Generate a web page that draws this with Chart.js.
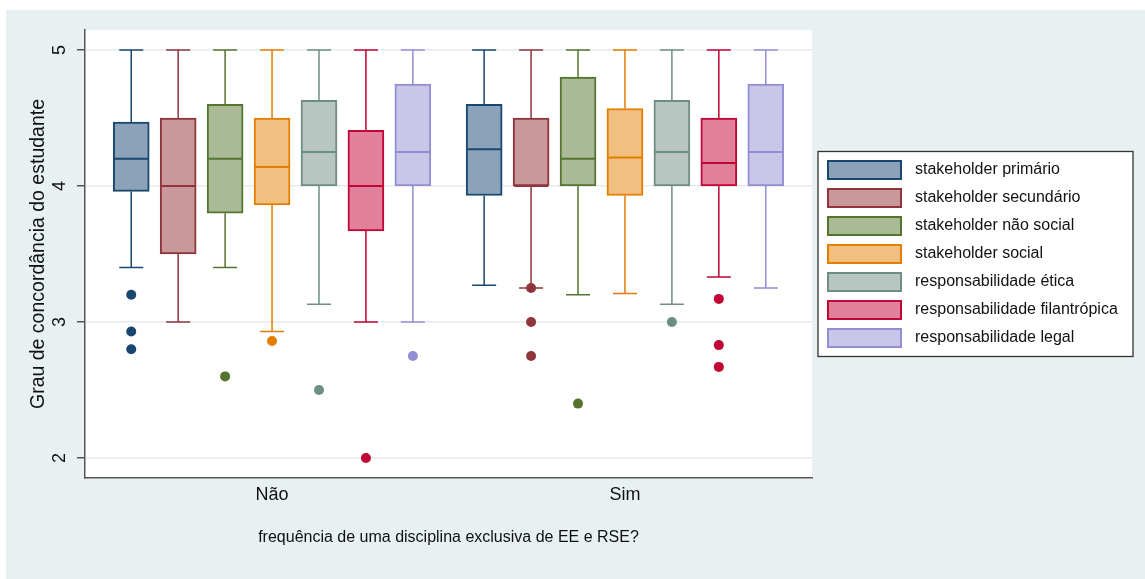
<!DOCTYPE html>
<html>
<head>
<meta charset="utf-8">
<script src="https://cdn.jsdelivr.net/npm/chart.js@4.4.0/dist/chart.umd.min.js"></script>
<style>
  html, body { margin: 0; padding: 0; background: #fff; }
  #wrap { width: 1145px; height: 579px; }
</style>
</head>
<body>
<div id="wrap"><canvas id="chart" width="1145" height="579"></canvas></div>
<script>
// categories (x axis) and series (one box per series in each category)
var groups = ['Não', 'Sim'];
var seriesNames = [
  'stakeholder primário',
  'stakeholder secundário',
  'stakeholder não social',
  'stakeholder social',
  'responsabilidade ética',
  'responsabilidade filantrópica',
  'responsabilidade legal'
];

// box statistics, one [Não, Sim] pair per series
var upperWhisker  = [[5, 5], [5, 5], [5, 5], [5, 5], [5, 5], [5, 5], [5, 5]];
var upperQuartile = [[4.47, 4.6], [4.5, 4.5], [4.6, 4.8], [4.5, 4.57], [4.63, 4.63], [4.41, 4.5], [4.75, 4.75]];
var medians       = [[4.2, 4.27], [4, 4], [4.2, 4.2], [4.14, 4.21], [4.25, 4.25], [4, 4.17], [4.25, 4.25]];
var lowerQuartile = [[3.96, 3.93], [3.5, 4], [3.8, 4], [3.86, 3.93], [4, 4], [3.67, 4], [4, 4]];
var lowerWhisker  = [[3.4, 3.27], [3, 3.25], [3.4, 3.2], [2.93, 3.21], [3.13, 3.13], [3, 3.33], [3, 3.25]];
var outliers = [
  [[3.2, 2.93, 2.8], []],
  [[], [3.25, 3, 2.75]],
  [[2.6], [2.4]],
  [[2.86], []],
  [[2.5], [3]],
  [[2], [3.17, 2.83, 2.67]],
  [[2.75], []]
];
var yTicks = [2, 3, 4, 5];

var lineColors = ['#1a476f', '#90353b', '#55752f', '#e37e00', '#6e8e84', '#c10534', '#938dd2'];
var fillColors = ['#8ca2b8', '#c8989b', '#aab996', '#f1bf80', '#b7c6c1', '#e0809a', '#c9c6e8'];

var FONT = '"Liberation Sans", Arial, Helvetica, sans-serif';
var SERIES_STEP = 0.133;

function xPos(g, s) {
  return g + (s - (seriesNames.length - 1) / 2) * SERIES_STEP;
}

var datasets = [];
seriesNames.forEach(function (name, s) {
  datasets.push({
    type: 'bar',
    label: name,
    data: groups.map(function (g, gi) {
      return { x: xPos(gi, s), y: [lowerQuartile[s][gi], upperQuartile[s][gi]] };
    }),
    backgroundColor: fillColors[s],
    borderColor: lineColors[s],
    borderWidth: 2,
    borderSkipped: false,
    barThickness: 36,
    grouped: false,
    order: 2
  });
});
seriesNames.forEach(function (name, s) {
  var pts = [];
  groups.forEach(function (g, gi) {
    outliers[s][gi].forEach(function (v) { pts.push({ x: xPos(gi, s), y: v }); });
  });
  datasets.push({
    type: 'scatter',
    label: name + ' (outliers)',
    data: pts,
    pointRadius: 5,
    pointHoverRadius: 5,
    pointBackgroundColor: lineColors[s],
    pointBorderWidth: 0,
    order: 1
  });
});

// whiskers under the boxes, medians on top, plus frame and legend
var boxPlugin = {
  id: 'boxParts',
  beforeDraw: function (chart) {
    var ctx = chart.ctx, a = chart.chartArea;
    ctx.save();
    ctx.fillStyle = '#ffffff';
    ctx.fillRect(0, 0, chart.width, chart.height);
    ctx.fillStyle = '#e8f0f2';
    ctx.fillRect(6, 10, chart.width - 6, chart.height - 10);
    ctx.fillStyle = '#ffffff';
    ctx.fillRect(a.left, a.top, a.right - a.left, a.bottom - a.top);
    ctx.restore();
  },
  beforeDatasetsDraw: function (chart) {
    var ctx = chart.ctx, xs = chart.scales.x, ys = chart.scales.y;
    ctx.save();
    ctx.lineWidth = 1.5;
    seriesNames.forEach(function (n, s) {
      ctx.strokeStyle = lineColors[s];
      groups.forEach(function (g, gi) {
        var x = xs.getPixelForValue(xPos(gi, s));
        var segs = [[upperQuartile[s][gi], upperWhisker[s][gi]], [lowerQuartile[s][gi], lowerWhisker[s][gi]]];
        segs.forEach(function (seg) {
          var y0 = ys.getPixelForValue(seg[0]), y1 = ys.getPixelForValue(seg[1]);
          ctx.beginPath();
          ctx.moveTo(x, y0); ctx.lineTo(x, y1);
          ctx.moveTo(x - 12, y1); ctx.lineTo(x + 12, y1);
          ctx.stroke();
        });
      });
    });
    ctx.restore();
  },
  afterDatasetsDraw: function (chart) {
    var ctx = chart.ctx, xs = chart.scales.x, ys = chart.scales.y;
    ctx.save();
    ctx.lineWidth = 2;
    seriesNames.forEach(function (n, s) {
      ctx.strokeStyle = lineColors[s];
      groups.forEach(function (g, gi) {
        var x = xs.getPixelForValue(xPos(gi, s));
        var y = ys.getPixelForValue(medians[s][gi]);
        ctx.beginPath();
        ctx.moveTo(x - 17, y); ctx.lineTo(x + 17, y);
        ctx.stroke();
      });
    });
    ctx.restore();
  },
  afterDraw: function (chart) {
    var ctx = chart.ctx, a = chart.chartArea, ys = chart.scales.y;
    ctx.save();
    // rotated y tick labels
    ctx.fillStyle = '#111';
    ctx.font = '18px ' + FONT;
    ctx.textAlign = 'center';
    ctx.textBaseline = 'middle';
    ys.ticks.forEach(function (t) {
      ctx.save();
      ctx.translate(60, ys.getPixelForValue(t.value));
      ctx.rotate(-Math.PI / 2);
      ctx.fillText(String(t.value), 0, 0);
      ctx.restore();
    });

    // legend box
    var left = a.right + 6, width = 315, rowH = 28;
    var height = seriesNames.length * rowH + 9;
    var top = (a.top + a.bottom) / 2 - height / 2;
    ctx.fillStyle = '#fff';
    ctx.fillRect(left, top, width, height);
    ctx.strokeStyle = '#333';
    ctx.lineWidth = 1.3;
    ctx.strokeRect(left, top, width, height);
    ctx.font = '16px ' + FONT;
    ctx.textAlign = 'left';
    seriesNames.forEach(function (name, s) {
      var cy = top + 18.5 + s * rowH;
      ctx.fillStyle = fillColors[s];
      ctx.fillRect(left + 9, cy - 10, 75, 20);
      ctx.strokeStyle = lineColors[s];
      ctx.lineWidth = 2;
      ctx.strokeRect(left + 10, cy - 9, 73, 18);
      ctx.fillStyle = '#111';
      ctx.fillText(name, left + 97, cy);
    });
    ctx.restore();
  }
};

new Chart(document.getElementById('chart'), {
  type: 'bar',
  data: { datasets: datasets },
  options: {
    responsive: false,
    animation: false,
    layout: { padding: { top: 30, right: 333, left: 0, bottom: 0 } },
    plugins: {
      legend: { display: false },
      tooltip: { enabled: false }
    },
    scales: {
      x: {
        type: 'linear',
        min: -0.53,
        max: 1.53,
        offset: false,
        afterBuildTicks: function (scale) {
          scale.ticks = groups.map(function (g, i) { return { value: i }; });
        },
        afterFit: function (scale) { scale.height = 101; },
        ticks: {
          autoSkip: false,
          maxRotation: 0,
          padding: 6,
          color: '#111',
          font: { family: FONT, size: 18 },
          callback: function (v) { return groups[v]; }
        },
        grid: { display: true, drawOnChartArea: false, drawTicks: false, offset: false },
        border: { display: true, color: '#555', width: 1.5 },
        title: {
          display: true,
          text: 'frequência de uma disciplina exclusiva de EE e RSE?',
          color: '#111',
          font: { family: FONT, size: 16 },
          padding: { top: 0, bottom: 32 }
        }
      },
      y: {
        type: 'linear',
        min: 1.853,
        max: 5.147,
        beginAtZero: false,
        afterBuildTicks: function (scale) {
          scale.ticks = yTicks.map(function (v) { return { value: v }; });
        },
        afterFit: function (scale) { scale.width = 85; },
        ticks: { display: false },
        grid: {
          color: '#e4ecef',
          lineWidth: 1.5,
          drawTicks: true,
          tickLength: 8,
          tickColor: '#555',
          tickWidth: 1.5
        },
        border: { display: true, color: '#555', width: 1.5 },
        title: {
          display: true,
          text: 'Grau de concordância do estudante',
          color: '#111',
          font: { family: FONT, size: 19.5 },
          padding: { top: 27, bottom: 0 }
        }
      }
    }
  },
  plugins: [boxPlugin]
});
</script>
</body>
</html>
